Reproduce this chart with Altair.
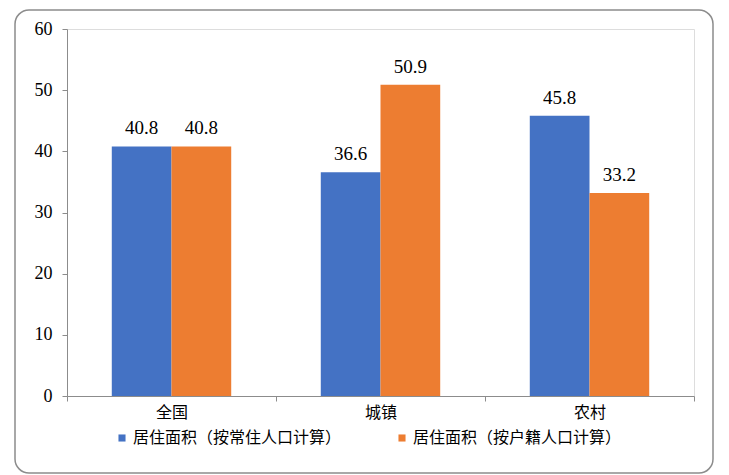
import altair as alt
import pandas as pd

categories = ["全国", "城镇", "农村"]
series = ["居住面积（按常住人口计算）", "居住面积（按户籍人口计算）"]
resident_values = [40.8, 36.6, 45.8]
household_values = [40.8, 50.9, 33.2]
colors = ["#4472C4", "#ED7D31"]
y_ticks = [0, 10, 20, 30, 40, 50, 60]

rows = []
for c, v in zip(categories, resident_values):
    rows.append({"cat": c, "series": series[0], "value": v})
for c, v in zip(categories, household_values):
    rows.append({"cat": c, "series": series[1], "value": v})
df = pd.DataFrame(rows)

W, H = 627, 367
serif = "Liberation Serif, DejaVu Serif, Times New Roman, serif"
cjk = "Noto Sans CJK SC"

x_enc = alt.X("cat:N", sort=categories, title=None,
              scale=alt.Scale(paddingInner=0, paddingOuter=0),
              axis=alt.Axis(labelAngle=0, labelFont=cjk, labelFontSize=16,
                            labelColor="#000", labelPadding=3,
                            domainColor="#8c8c8c", tickColor="#8c8c8c",
                            tickBand="extent", tickSize=5))
xoff = alt.XOffset("series:N", sort=series,
                   scale=alt.Scale(paddingOuter=0.75, paddingInner=0))

base = alt.Chart(df)

bars = base.mark_bar().encode(
    x=x_enc,
    xOffset=xoff,
    y=alt.Y("value:Q", title=None,
            scale=alt.Scale(domain=[0, 60]),
            axis=alt.Axis(values=y_ticks, grid=False, labelFont=serif,
                          labelFontSize=18, labelColor="#000",
                          domainColor="#8c8c8c", tickColor="#8c8c8c",
                          tickSize=5, labelPadding=10)),
    color=alt.Color("series:N", sort=series,
                    scale=alt.Scale(domain=series, range=colors),
                    legend=alt.Legend(title=None, orient="none",
                                      direction="horizontal",
                                      legendX=47, legendY=H + 34,
                                      symbolType="square", symbolSize=50,
                                      labelFont=cjk, labelFontSize=16,
                                      labelColor="#000", columnPadding=52,
                                      labelLimit=0,
                                      symbolOffset=0, labelOffset=3)),
)

labels = base.mark_text(baseline="bottom", dy=-8, font=serif,
                        fontSize=19, color="#000").encode(
    x=alt.X("cat:N", sort=categories),
    xOffset=xoff,
    y="value:Q",
    text=alt.Text("value:Q", format=".1f"),
)

border = alt.Chart(alt.Data(values=[{}])).mark_rect(
    fill=None, fillOpacity=0, stroke="#8c8c8c", strokeWidth=1.5, cornerRadius=14
).encode(
    x=alt.value(-52), x2=alt.value(W + 19),
    y=alt.value(-19), y2=alt.value(H + 77),
)

chart = alt.layer(border, bars, labels).properties(
    width=W, height=H,
    padding={"left": 6, "top": 1, "right": 0, "bottom": 0},
).configure_view(stroke=None).configure(background="white")

chart.save("out.html", embed_options={"renderer": "svg", "actions": False})
